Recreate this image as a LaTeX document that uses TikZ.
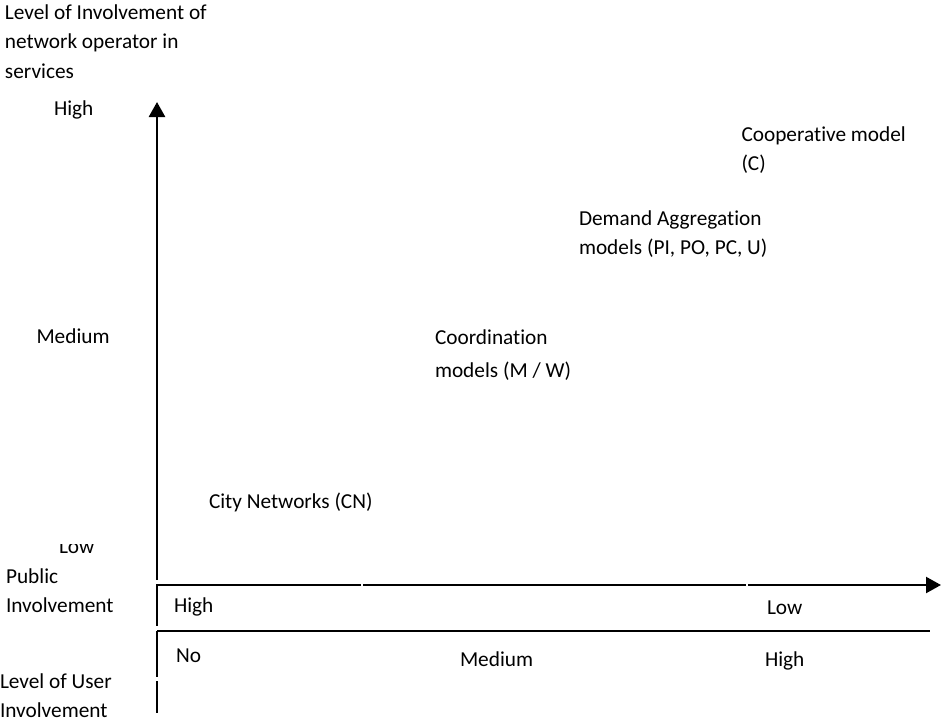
\documentclass[tikz,border=0pt]{standalone}
\usepackage{fontspec}
\setmainfont[Ligatures=NoCommon]{Carlito}
\usetikzlibrary{arrows.meta}
\begin{document}
\begin{tikzpicture}[x=1pt,y=-1pt,
  lbl/.style={anchor=base west,inner sep=0pt,outer sep=0pt,font=\fontsize{21.3}{29}\selectfont,text=black},
  axis/.style={line width=2.2pt,draw=black},
  vaxis/.style={line width=2.6pt,draw=black},
  tip/.style={-{Triangle[length=15pt,width=16pt]}}]
\useasboundingbox (0,0) rectangle (943,723);
% coordinates
\coordinate (vtop) at (157,102);
\coordinate (v1b) at (157,580);
\coordinate (v2t) at (157,584);
\coordinate (v2b) at (157,626);
\coordinate (v3t) at (157,631);
\coordinate (v3b) at (157,677);
\coordinate (v4t) at (157,681);
\coordinate (v4b) at (157,713);
\coordinate (h1a) at (157,585);
\coordinate (h1g1) at (361,585);
\coordinate (h1g2) at (363,585);
\coordinate (h1g3) at (746,585);
\coordinate (h1g4) at (748,585);
\coordinate (h1e) at (941,585);
\coordinate (h2a) at (157,631);
\coordinate (h2e) at (930,631);
% axes
\draw[vaxis,tip] (v1b) -- (vtop);
\draw[vaxis] (v2t) -- (v2b);
\draw[vaxis] (v3t) -- (v3b);
\draw[vaxis] (v4t) -- (v4b);
\draw[axis] (h1a) -- (h1g1);
\draw[axis] (h1g2) -- (h1g3);
\draw[axis,tip] (h1g4) -- (h1e);
\draw[axis] (h2a) -- (h2e);
% y-axis labels
\node[lbl] (t1) at (5,19.5) {Level of Involvement of};
\node[lbl] (t2) at (5,48.5) {network operator in};
\node[lbl] (t3) at (5,78) {services};
\node[lbl] (yhigh) at (54,115) {High};
\node[lbl] (ymed) at (36.5,343.5) {Medium};
\begin{scope}
\clip (0,544) rectangle (150,570);
\node[lbl] (ylow) at (59,553) {Low};
\end{scope}
% public involvement
\node[lbl] (pub1) at (6,583) {Public};
\node[lbl] (pub2) at (6,612.5) {Involvement};
\node[lbl] (phigh) at (174,612) {High};
\node[lbl] (plow) at (767,614.5) {Low};
% user involvement
\node[lbl] (uno) at (176,662) {No};
\node[lbl] (umed) at (460,666.5) {Medium};
\node[lbl] (uhigh) at (765,666) {High};
\node[lbl] (u1) at (0,688) {Level of User};
\node[lbl] (u2) at (0,717) {Involvement};
% models
\node[lbl] (cn) at (209,508) {City Networks (CN)};
\node[lbl] (co1) at (435,344) {Coordination};
\node[lbl] (co2) at (435,377) {models (M / W)};
\node[lbl] (da1) at (579,225) {Demand Aggregation};
\node[lbl] (da2) at (579,254.5) {models (PI, PO, PC, U)};
\node[lbl] (cp1) at (741.5,141.5) {Cooperative model};
\node[lbl] (cp2) at (741.5,170.5) {(C)};
\end{tikzpicture}
\end{document}
